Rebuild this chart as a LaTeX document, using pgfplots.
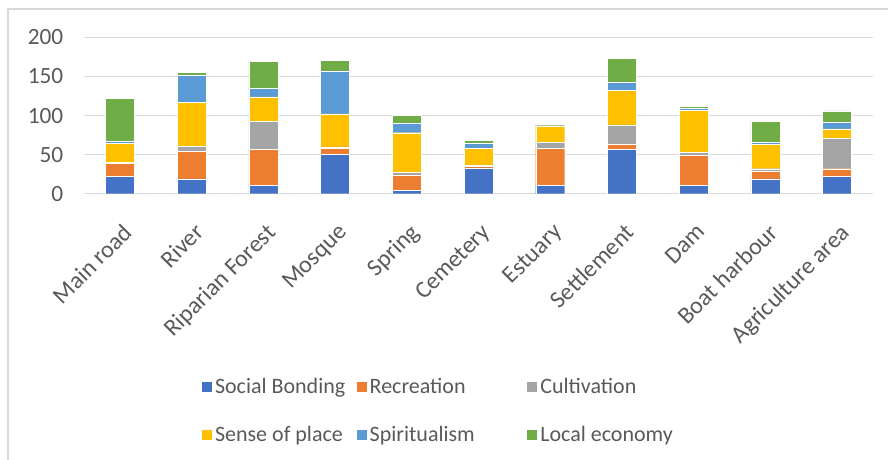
\documentclass[border=0pt]{standalone}
\usepackage{pgfplots}
\pgfplotsset{compat=1.18}
\usepackage{pgfplotstable}
\usepackage{fontspec}
\setmainfont{Carlito}
\definecolor{cSB}{HTML}{4472C4}
\definecolor{cRE}{HTML}{ED7D31}
\definecolor{cCU}{HTML}{A5A5A5}
\definecolor{cSE}{HTML}{FFC000}
\definecolor{cSP}{HTML}{5B9BD5}
\definecolor{cLE}{HTML}{70AD47}
\definecolor{txt}{HTML}{595959}
\definecolor{gridc}{HTML}{D9D9D9}
\pgfplotstableread{
x SB RE CU SE SP LE
0 22 17 1 24 3 55
1 19 35 7 56 35 3
2 11 46 36 31 11 34
3 50 8 2 42 55 14
4 4 20 3 51 12 10
5 33 2 2 21 7 3
6 11 47 8 21 2 0
7 57 6 25 44 10 31
8 11 38 4 54 2 3
9 19 10 3 31 3 27
10 22 10 39 12 8 15
}\datatable
\begin{document}
\begin{tikzpicture}
\path[use as bounding box] (0,0) rectangle (666pt,345pt);
\draw[gridc, line width=0.8pt] (6pt,0) -- (6pt,338.25pt) -- (666pt,338.25pt);
\begin{axis}[
  at={(63pt,199.7pt)}, anchor=south west,
  scale only axis, width=591.75pt, height=117.3pt,
  ybar stacked, bar width=21.75pt,
  xmin=-0.5, xmax=10.5, ymin=0, ymax=200,
  ytick={0,50,100,150,200},
  xtick={0,...,10},
  xticklabels={Main road,River,Riparian Forest,Mosque,Spring,Cemetery,Estuary,Settlement,Dam,Boat harbour,Agriculture  area},
  axis lines*=left,
  y axis line style={draw=none},
  x axis line style={draw=gridc, line width=1.1pt, -},
  ymajorgrids, xmajorgrids=false,
  grid style={draw=gridc, line width=1.1pt},
  major tick length=0pt,
  tick style={draw=none},
  /pgf/number format/assume math mode=true,
  yticklabel style={font=\fontsize{17.5}{19}\selectfont, text=txt, anchor=east, xshift=-12pt},
  xticklabel style={font=\fontsize{18}{20}\selectfont, text=txt, rotate=45, anchor=north east, inner sep=1pt, yshift=-15pt, xshift=-13pt},
  legend style={draw=none, fill=none, at={(0.148,-1.16)}, anchor=north west,
    legend columns=3, inner sep=0pt,
    font=\fontsize{16.5}{18}\selectfont, text=txt,
    /tikz/every even column/.append style={column sep=4.5pt},
    /tikz/every odd column/.append style={column sep=0pt},
    row sep=19pt},
  legend cell align=left,
  legend image code/.code={\fill[#1] (0pt,-4.1pt) rectangle (8.2pt,4.1pt);},
  every axis plot/.append style={draw=white, line width=0.3pt},
]
\addplot[fill=cSB] table[x=x,y=SB]{\datatable};
\addplot[fill=cRE] table[x=x,y=RE]{\datatable};
\addplot[fill=cCU] table[x=x,y=CU]{\datatable};
\addplot[fill=cSE] table[x=x,y=SE]{\datatable};
\addplot[fill=cSP] table[x=x,y=SP]{\datatable};
\addplot[fill=cLE] table[x=x,y=LE]{\datatable};
\legend{\makebox[99pt][l]{Social Bonding},\makebox[111pt][l]{Recreation},\makebox[105pt][l]{Cultivation},\makebox[99pt][l]{Sense of place},\makebox[111pt][l]{Spiritualism},\makebox[105pt][l]{Local economy}}
\end{axis}
\end{tikzpicture}
\end{document}
